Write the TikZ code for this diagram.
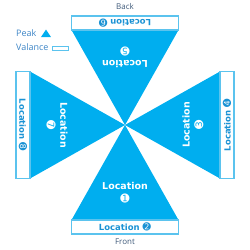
\documentclass[tikz,border=0pt]{standalone}
\usepackage{fontspec}
\setmainfont{Open Sans}
\newfontfamily\locfont{DejaVu Sans}
\usetikzlibrary{positioning}

\definecolor{peakblue}{HTML}{00AEEF}
\definecolor{valedge}{HTML}{5BC3EE}
\definecolor{valtext}{HTML}{1A92D4}
\definecolor{legendblue}{HTML}{3D85C6}
\definecolor{sidegray}{HTML}{3F5A7A}

\begin{document}
\begin{tikzpicture}[x=1bp,y=1bp,font=\fontsize{9}{10}\selectfont]
  \tikzset{
    peak/.style={fill=peakblue},
    valance/.style={draw=valedge,fill=white,line width=1.2bp},
    peaklabel/.style={font=\locfont\bfseries\fontsize{9.5}{10}\selectfont,text=white,inner sep=0pt},
    peaknum/.style={font=\locfont\fontsize{11}{11}\selectfont,text=white,inner sep=0pt},
    valancelabel/.style={font=\locfont\bfseries\fontsize{8.5}{9}\selectfont,text=valtext,inner sep=0pt},
    side/.style={font=\fontsize{8}{9}\selectfont,text=sidegray,inner sep=0pt},
    legend/.style={font=\fontsize{9}{10}\selectfont,text=legendblue,inner sep=0pt,anchor=west}
  }
  \useasboundingbox (-125,-125) rectangle (125,125);
  \coordinate (hub) at (0,0);
  % peaks
  \fill[peak] (hub) -- (-53.5,-95) -- (53.5,-95) -- cycle;
  \fill[peak] (hub) -- (95,-53.5) -- (95,53.5) -- cycle;
  \fill[peak] (hub) -- (53.5,95) -- (-53.5,95) -- cycle;
  \fill[peak] (hub) -- (-95,53.5) -- (-95,-53.5) -- cycle;
  % valances
  \draw[valance] (-53.5,-95) rectangle (53.5,-109);
  \draw[valance] (95,-53.5) rectangle (109,53.5);
  \draw[valance] (-53.5,95) rectangle (53.5,109);
  \draw[valance] (-95,-53.5) rectangle (-109,53.5);
  % peak labels
  \node[peaklabel] (loc1) at (0,-61) {Location};
  \node[peaknum] (num1) at (0,-74) {➊};
  \node[peaklabel,rotate=90] (loc3) at (61,0) {Location};
  \node[peaknum,rotate=90] (num3) at (74,0) {➌};
  \node[peaklabel,rotate=180] (loc5) at (0,61) {Location};
  \node[peaknum,rotate=180] (num5) at (0,74) {➎};
  \node[peaklabel,rotate=-90] (loc7) at (-61,0) {Location};
  \node[peaknum,rotate=-90] (num7) at (-74,0) {➐};
  % valance labels
  \node[valancelabel] (loc2) at (0,-102) {Location {\locfont\mdseries\fontsize{10}{10}\selectfont ➋}};
  \node[valancelabel,rotate=90] (loc4) at (102,0) {Location {\locfont\mdseries\fontsize{10}{10}\selectfont ➍}};
  \node[valancelabel,rotate=180] (loc6) at (0,102) {Location {\locfont\mdseries\fontsize{10}{10}\selectfont ➏}};
  \node[valancelabel,rotate=-90] (loc8) at (-102,0) {Location {\locfont\mdseries\fontsize{10}{10}\selectfont ➑}};
  % sides
  \node[side] (front) at (0,-117) {Front};
  \node[side] (back) at (0,118) {Back};
  % legend
  \node[legend] (peakkey) at (-109,92) {Peak};
  \fill[peakblue] (-84,88) -- (-74,88) -- (-79,95.5) -- cycle;
  \node[legend] (valancekey) at (-109,78) {Valance};
  \draw[draw=valedge,line width=1bp] (-72,75) rectangle (-56,79);
\end{tikzpicture}
\end{document}
